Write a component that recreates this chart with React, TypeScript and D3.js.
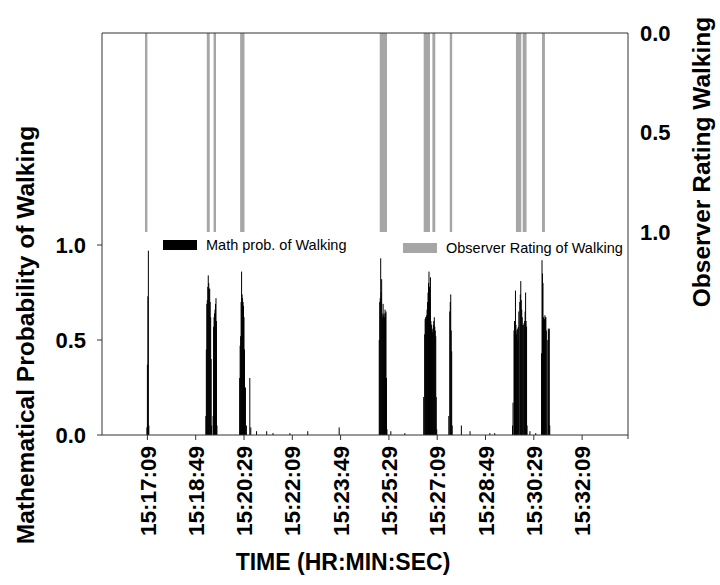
import React from "react";
import * as d3 from "d3";

// Math probability of walking (black spikes)
const walkTimes = [
  "15:17:08", "15:17:09", "15:17:10", "15:17:11", "15:17:12",
  "15:19:10", "15:19:11", "15:19:12", "15:19:13", "15:19:14", "15:19:15", "15:19:16", "15:19:17", "15:19:18", "15:19:19", "15:19:20", "15:19:21", "15:19:22",
  "15:19:25", "15:19:26", "15:19:27", "15:19:28", "15:19:29", "15:19:30", "15:19:31", "15:19:32", "15:19:33",
  "15:20:20", "15:20:21", "15:20:22", "15:20:23", "15:20:24", "15:20:25", "15:20:26", "15:20:27", "15:20:28", "15:20:29", "15:20:30", "15:20:32", "15:20:34",
  "15:20:41", "15:20:43", "15:20:55", "15:21:16", "15:21:29", "15:22:04", "15:22:41", "15:23:46",
  "15:25:09", "15:25:10", "15:25:11", "15:25:12", "15:25:13", "15:25:14", "15:25:15", "15:25:16", "15:25:17", "15:25:18", "15:25:19", "15:25:20", "15:25:21", "15:25:22", "15:25:23", "15:25:24", "15:25:25",
  "15:25:33", "15:26:02",
  "15:26:41", "15:26:43", "15:26:44", "15:26:45", "15:26:46", "15:26:47", "15:26:48", "15:26:49", "15:26:50", "15:26:51", "15:26:52", "15:26:53", "15:26:54", "15:26:55", "15:26:56", "15:26:57", "15:26:58", "15:26:59", "15:27:00", "15:27:01", "15:27:02", "15:27:03", "15:27:04", "15:27:05", "15:27:06", "15:27:07", "15:27:08",
  "15:27:33", "15:27:35", "15:27:36", "15:27:37", "15:27:38", "15:27:39", "15:27:40",
  "15:27:59", "15:28:17", "15:28:58", "15:29:08",
  "15:29:45", "15:29:46", "15:29:48", "15:29:49", "15:29:50", "15:29:51", "15:29:52", "15:29:53", "15:29:54", "15:29:55", "15:29:56", "15:29:57", "15:29:58", "15:30:00", "15:30:01", "15:30:02", "15:30:03", "15:30:04", "15:30:05", "15:30:06", "15:30:08", "15:30:09", "15:30:10", "15:30:11", "15:30:12", "15:30:13", "15:30:14", "15:30:15",
  "15:30:21", "15:30:33",
  "15:30:45", "15:30:46", "15:30:47", "15:30:48", "15:30:49", "15:30:50", "15:30:51", "15:30:52", "15:30:53", "15:30:54", "15:30:55", "15:30:58", "15:30:59", "15:31:00", "15:31:01", "15:31:02",
];
const walkProb = [
  0.04, 0.37, 0.73, 0.97, 0.05,
  0.10, 0.45, 0.69, 0.71, 0.78, 0.84, 0.80, 0.77, 0.77, 0.70, 0.62, 0.40, 0.05,
  0.10, 0.57, 0.62, 0.64, 0.66, 0.69, 0.72, 0.60, 0.05,
  0.30, 0.47, 0.52, 0.70, 0.86, 0.74, 0.72, 0.70, 0.68, 0.62, 0.45, 0.25, 0.05,
  0.30, 0.04, 0.02, 0.02, 0.01, 0.01, 0.02, 0.04,
  0.50, 0.70, 0.72, 0.93, 0.75, 0.82, 0.64, 0.62, 0.69, 0.63, 0.64, 0.62, 0.66, 0.64, 0.65, 0.30, 0.03,
  0.02, 0.01,
  0.20, 0.53, 0.61, 0.62, 0.60, 0.63, 0.66, 0.70, 0.75, 0.80, 0.86, 0.78, 0.72, 0.83, 0.60, 0.58, 0.55, 0.54, 0.56, 0.58, 0.60, 0.62, 0.57, 0.55, 0.52, 0.20, 0.03,
  0.10, 0.65, 0.70, 0.74, 0.55, 0.44, 0.05,
  0.05, 0.02, 0.01, 0.01,
  0.05, 0.17, 0.55, 0.60, 0.55, 0.76, 0.58, 0.53, 0.55, 0.56, 0.50, 0.57, 0.65, 0.70, 0.74, 0.81, 0.71, 0.66, 0.62, 0.58, 0.58, 0.59, 0.60, 0.65, 0.75, 0.60, 0.57, 0.05,
  0.02, 0.01,
  0.43, 0.92, 0.85, 0.80, 0.62, 0.60, 0.61, 0.63, 0.62, 0.62, 0.55, 0.50, 0.56, 0.55, 0.56, 0.05,
];

// Observer rating of walking (gray bars hanging from top)
const obsStart = ["15:17:04", "15:19:12", "15:19:26", "15:20:21", "15:25:10", "15:26:41", "15:26:59", "15:27:35", "15:29:52", "15:30:06", "15:30:46"];
const obsEnd = ["15:17:09", "15:19:18", "15:19:31", "15:20:30", "15:25:25", "15:26:54", "15:27:05", "15:27:40", "15:30:03", "15:30:14", "15:30:52"];

const xTickLabels = ["15:17:09", "15:18:49", "15:20:29", "15:22:09", "15:23:49", "15:25:29", "15:27:09", "15:28:49", "15:30:29", "15:32:09"];
const xDomain = ["15:15:35", "15:33:44"];
const leftTicks = [0, 0.5, 1.0];
const rightTicks = [0, 0.5, 1.0];

const FONT = "'Liberation Sans', Arial, Helvetica, sans-serif";

export default function App() {
  const parse = d3.timeParse("%H:%M:%S");
  const left = 102, right = 628, top = 33, bottom = 435;

  const x = d3.scaleTime().domain(xDomain.map((s) => parse(s) as Date)).range([left, right]);
  const yL = d3.scaleLinear().domain([0, 1]).range([bottom, 245]);
  const yR = d3.scaleLinear().domain([0, 1]).range([top, 232]);

  const axisColor = "#333";

  return (
    <svg width={720} height={585} style={{ position: "absolute", left: 0, top: 0, background: "#fff" }} fontFamily={FONT}>
      <rect x={0} y={0} width={720} height={585} fill="#fff" />
      {/* observer bars */}
      {obsStart.map((s, i) => {
        const x0 = x(parse(s) as Date);
        const x1 = x(parse(obsEnd[i]) as Date);
        const w = Math.max(2, x1 - x0);
        return <rect key={"o" + i} x={x0} y={yR(0)} width={w} height={yR(1) - yR(0)} fill="#a6a6a6" />;
      })}
      {/* math probability spikes */}
      {walkTimes.map((t, i) => {
        const xx = x(parse(t) as Date);
        return <line key={"w" + i} x1={xx} x2={xx} y1={yL(0)} y2={yL(walkProb[i])} stroke="#000" strokeWidth={1} />;
      })}
      {/* frame */}
      <line x1={left} x2={left} y1={top} y2={bottom} stroke={axisColor} strokeWidth={1} />
      <line x1={left} x2={right} y1={top} y2={top} stroke={axisColor} strokeWidth={1} />
      <line x1={right} x2={right} y1={top} y2={bottom + 4} stroke={axisColor} strokeWidth={1} />
      <line x1={left} x2={right} y1={bottom} y2={bottom} stroke={axisColor} strokeWidth={1} />
      {/* left ticks */}
      {leftTicks.map((v) => (
        <g key={"l" + v}>
          <line x1={left - 5} x2={left} y1={yL(v)} y2={yL(v)} stroke={axisColor} />
          <text x={86} y={yL(v)} dy="0.36em" textAnchor="end" fontSize={22} fontWeight="bold">{v.toFixed(1)}</text>
        </g>
      ))}
      {/* right ticks */}
      {rightTicks.map((v) => (
        <text key={"r" + v} x={640} y={yR(v)} dy="0.36em" textAnchor="start" fontSize={22} fontWeight="bold">{v.toFixed(1)}</text>
      ))}
      {/* bottom ticks */}
      {xTickLabels.map((s) => {
        const xx = x(parse(s) as Date);
        return (
          <g key={"x" + s}>
            <line x1={xx} x2={xx} y1={bottom} y2={bottom + 5} stroke={axisColor} />
            <text transform={`translate(${xx},${bottom + 11}) rotate(-90)`} dy="0.36em" textAnchor="end" fontSize={22.5} fontWeight="bold">{s}</text>
          </g>
        );
      })}
      {/* titles */}
      <text transform={`translate(34,335) rotate(-90)`} textAnchor="middle" fontSize={24.5} fontWeight="bold">Mathematical Probability of Walking</text>
      <text transform={`translate(710,162) rotate(-90)`} textAnchor="middle" fontSize={24.5} fontWeight="bold">Observer Rating Walking</text>
      <text x={343} y={570} textAnchor="middle" fontSize={23} fontWeight="bold">TIME (HR:MIN:SEC)</text>
      {/* legend */}
      <rect x={163} y={240} width={34} height={10} fill="#000" />
      <text x={206} y={250} fontSize={14.5}>Math prob. of Walking</text>
      <rect x={403} y={243} width={34} height={10} fill="#a6a6a6" />
      <text x={446} y={253} fontSize={14.5}>Observer Rating of Walking</text>
    </svg>
  );
}
